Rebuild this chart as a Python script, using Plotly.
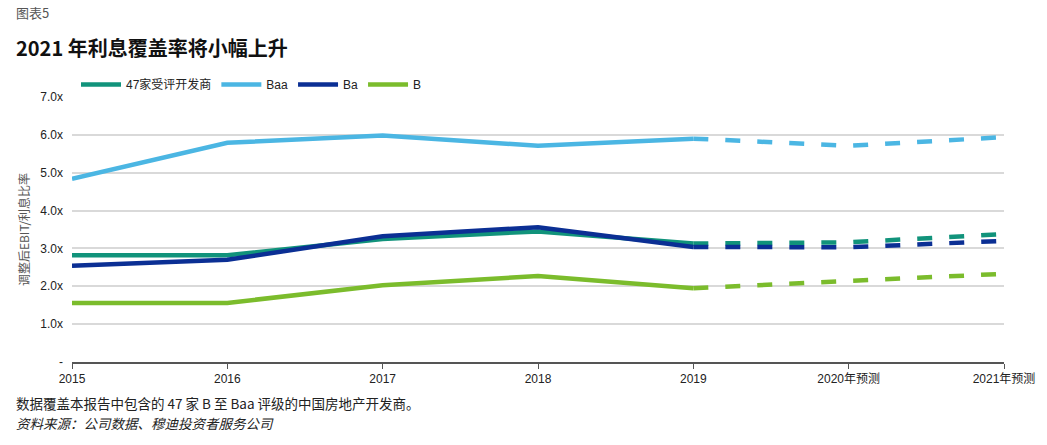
import plotly.graph_objects as go

years = ["2015", "2016", "2017", "2018", "2019", "2020年预测", "2021年预测"]
series_names = ["47家受评开发商", "Baa", "Ba", "B"]
all47 = [2.82, 2.82, 3.25, 3.45, 3.13, 3.16, 3.38]
baa = [4.84, 5.79, 5.98, 5.71, 5.90, 5.71, 5.94]
ba = [2.54, 2.70, 3.32, 3.56, 3.04, 3.03, 3.20]
b = [1.56, 1.56, 2.03, 2.27, 1.95, 2.14, 2.33]
y_ticks = [0, 1, 2, 3, 4, 5, 6, 7]
y_ticktext = ["-", "1.0x", "2.0x", "3.0x", "4.0x", "5.0x", "6.0x", "7.0x"]

colors = ["#11937B", "#4BB6E3", "#0B2F94", "#7BBC2C"]
FONT = "'Liberation Sans', Arial, 'Noto Sans CJK SC', sans-serif"
CJK = "'Noto Sans CJK SC', 'Liberation Sans', sans-serif"

xs = list(range(len(years)))
n_actual = 5
fig = go.Figure()
for name, vals, col in zip(series_names, [all47, baa, ba, b], colors):
    fig.add_trace(go.Scatter(
        x=xs[:n_actual], y=vals[:n_actual], name=name, mode="lines",
        line=dict(color=col, width=4.5), showlegend=True))
for name, vals, col in zip(series_names, [all47, baa, ba, b], colors):
    fig.add_trace(go.Scatter(
        x=xs[n_actual - 1:], y=vals[n_actual - 1:], name=name, mode="lines",
        line=dict(color=col, width=4.5, dash="15px,17px"), showlegend=False))

PH = 445 - 97 - 83
PW = 1047 - 72 - 43

fig.update_layout(
    width=1047, height=445,
    margin=dict(l=72, r=43, t=97, b=83, autoexpand=False),
    paper_bgcolor="white", plot_bgcolor="white",
    font=dict(family=FONT, size=12, color="#222"),
    showlegend=True,
    legend=dict(orientation="h", x=4 / PW, y=1 + (97 - 70) / PH, xref="paper", yref="paper",
                xanchor="left", yanchor="top",
                font=dict(family=FONT, size=12, color="#222"),
                itemwidth=40, bgcolor="rgba(0,0,0,0)"),
    xaxis=dict(range=[0, 6], tickmode="array", tickvals=xs, ticktext=years,
               showgrid=False, zeroline=False, showline=True, linecolor="#555",
               linewidth=1.5, ticks="outside", ticklen=5, tickcolor="#555",
               tickfont=dict(family=FONT, size=12, color="#222"), fixedrange=True),
    yaxis=dict(range=[0, 7], tickmode="array", tickvals=y_ticks, ticktext=y_ticktext,
               showgrid=True, gridcolor="#D9D9D9", gridwidth=1.5, zeroline=False,
               showline=False, ticks="", ticklabelstandoff=8,
               tickfont=dict(family=FONT, size=12, color="#222"),
               title=dict(text="调整后EBIT/利息比率", font=dict(family=CJK, size=12, color="#555"),
                          standoff=8)),
)

anns = [
    dict(text="图表5", x=14, y=12, font=dict(family=CJK, size=13, color="#555")),
    dict(text="<b>2021 年利息覆盖率将小幅上升</b>", x=14, y=47, font=dict(family=CJK, size=20, color="#111")),
    dict(text="数据覆盖本报告中包含的 47 家 B 至 Baa 评级的中国房地产开发商。", x=14, y=403,
         font=dict(family=CJK, size=13.5, color="#222")),
    dict(text="<i>资料来源：公司数据、穆迪投资者服务公司</i>", x=14, y=423,
         font=dict(family=CJK, size=13.5, color="#222")),
]
for a in anns:
    fig.add_annotation(text=a["text"], xref="paper", yref="paper",
                       x=(a["x"] - 72) / PW, y=1 - (a["y"] - 97) / PH,
                       xanchor="left", yanchor="middle", showarrow=False, font=a["font"])

fig.write_html("out.html")
